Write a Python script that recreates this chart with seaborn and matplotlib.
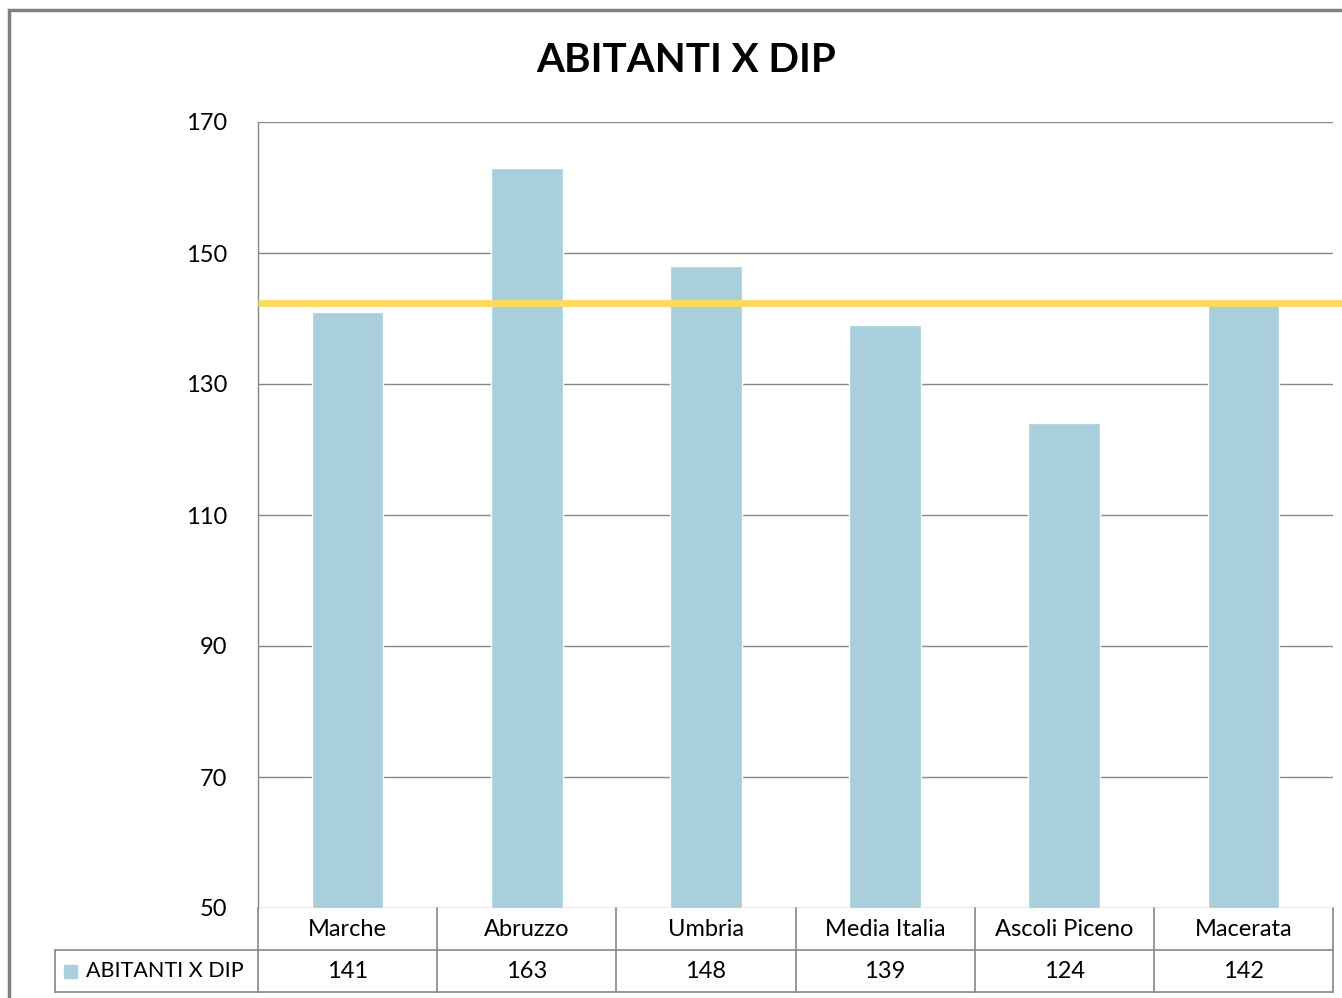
import numpy as np
import pandas as pd
import seaborn as sns
import matplotlib.pyplot as plt
from matplotlib.patches import Rectangle
import matplotlib.transforms as mtransforms

categories = ['Marche', 'Abruzzo', 'Umbria', 'Media Italia', 'Ascoli Piceno', 'Macerata']
values = [141, 163, 148, 139, 124, 142]
reference_line = 142.3
series_name = 'ABITANTI X DIP'
y_ticks = [50, 70, 90, 110, 130, 150, 170]

bar_color = '#A9CEDC'
line_color = '#FDDA60'
grid_color = '#868686'

sns.set_style('white')
plt.rcParams['font.family'] = ['Lato', 'DejaVu Sans']
plt.rcParams['text.color'] = 'black'
plt.rcParams['ytick.color'] = 'black'

df = pd.DataFrame({'region': categories, 'value': values})

fig = plt.figure(figsize=(13.42, 9.98), dpi=100)
ax = fig.add_axes([258 / 1342, 1 - 908 / 998, 1075 / 1342, 786 / 998])

sns.barplot(data=df, x='region', y='value', color=bar_color, width=0.4,
            saturation=1, ax=ax, zorder=2)

ax.set_ylim(50, 170)
ax.set_xlim(-0.5, len(categories) - 0.5)
ax.set_yticks(y_ticks)
ax.set_yticklabels([str(t) for t in y_ticks], fontsize=17)
ax.tick_params(axis='y', length=0, pad=22)
ax.set_xticks([])
ax.set_xlabel('')
ax.set_ylabel('')
for t in y_ticks:
    ax.axhline(t, color=grid_color, lw=1, zorder=1)
for s in ['top', 'right', 'bottom']:
    ax.spines[s].set_visible(False)
ax.spines['left'].set_color(grid_color)
ax.spines['left'].set_linewidth(1)

# average line, runs past the plot edge
ax.axhline(reference_line, xmin=0, xmax=1.01, color=line_color, lw=5,
           zorder=3, clip_on=False, solid_capstyle='butt')

fig.text(686 / 1342, 1 - 61 / 998, series_name, fontsize=29, fontweight='bold',
         ha='center', va='center', color='black')

# data table under the plot
row_h = 42 / 786
trans = mtransforms.blended_transform_factory(ax.transData, ax.transAxes)
n = len(categories)
lk = dict(color=grid_color, lw=1.2, clip_on=False)
ax.plot([-0.5, n - 0.5], [-row_h, -row_h], transform=trans, **lk)
ax.plot([-0.5, n - 0.5], [-2 * row_h, -2 * row_h], transform=trans, **lk)
for i in range(n + 1):
    ax.plot([i - 0.5, i - 0.5], [0, -2 * row_h], transform=trans, **lk)
left_cell = -203 / 1075
ax.plot([left_cell, 0], [-row_h, -row_h], transform=ax.transAxes, **lk)
ax.plot([left_cell, 0], [-2 * row_h, -2 * row_h], transform=ax.transAxes, **lk)
ax.plot([left_cell, left_cell], [-row_h, -2 * row_h], transform=ax.transAxes, **lk)

for i, (c, v) in enumerate(zip(categories, values)):
    ax.text(i, -row_h / 2, c, transform=trans, ha='center', va='center', fontsize=17)
    ax.text(i, -1.5 * row_h, str(v), transform=trans, ha='center', va='center', fontsize=17)
ax.add_patch(Rectangle((left_cell + 9 / 1075, -1.5 * row_h - 7 / 786), 13 / 1075, 13 / 786,
                       transform=ax.transAxes, color=bar_color, clip_on=False))
ax.text(left_cell + 31 / 1075, -1.5 * row_h, series_name, transform=ax.transAxes,
        ha='left', va='center', fontsize=15.5)

# outer chart border
fig.patches.append(Rectangle((9 / 1342, -0.1), 1.2, 1 - 10 / 998 + 0.1,
                             transform=fig.transFigure, fill=False,
                             edgecolor='#7F7F7F', lw=2.5))

fig.savefig('out.png', dpi=100)
